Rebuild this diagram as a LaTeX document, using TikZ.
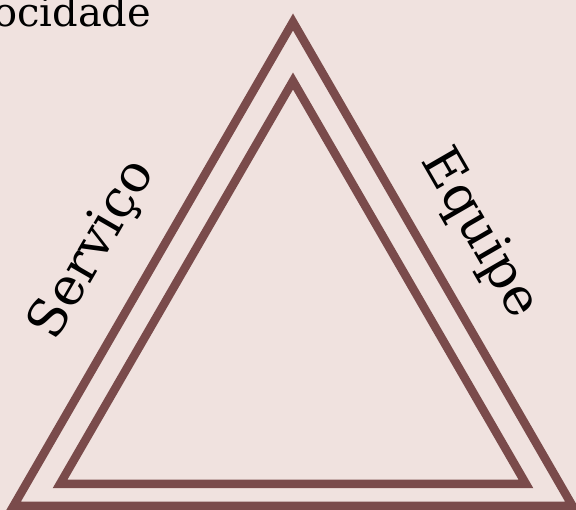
\documentclass[tikz,border=0pt]{standalone}
\usepackage{fontspec}
\setmainfont{DejaVu Serif}
\usepackage{xcolor}
\usepackage{tikz}
\usetikzlibrary{positioning}
\definecolor{fundo}{HTML}{F0E2DF}
\definecolor{borda}{HTML}{7A4B4B}

\begin{document}
\begin{tikzpicture}[x=1pt, y=-1pt,
    lado/.style={draw=borda, line width=8.5pt, line join=miter},
    rotulo/.style={font=\fontsize{52}{60}\selectfont, inner sep=0pt}]
    % Fundo
    \fill[fundo] (0,0) rectangle (576,510);
    \useasboundingbox (0,0) rectangle (576,510);
    % Vertices
    \coordinate (ext-topo) at (293,22);
    \coordinate (ext-esq) at (13.5,506);
    \coordinate (ext-dir) at (572.5,506);
    \coordinate (int-topo) at (293,81);
    \coordinate (int-esq) at (60,484);
    \coordinate (int-dir) at (526,484);
    % Triangulos
    \draw[lado] (ext-topo) -- (ext-esq) -- (ext-dir) -- cycle;
    \draw[lado] (int-topo) -- (int-esq) -- (int-dir) -- cycle;
    % Rotulos
    \node[rotulo, font=\fontsize{40}{48}\selectfont, anchor=base west] (velocidade) at (-7,27) {ocidade};
    \node[rotulo, rotate=60] (servico) at (93,250) {Serviço};
    \node[rotulo, rotate=-60] (equipe) at (479,234) {Equipe};
\end{tikzpicture}
\end{document}
